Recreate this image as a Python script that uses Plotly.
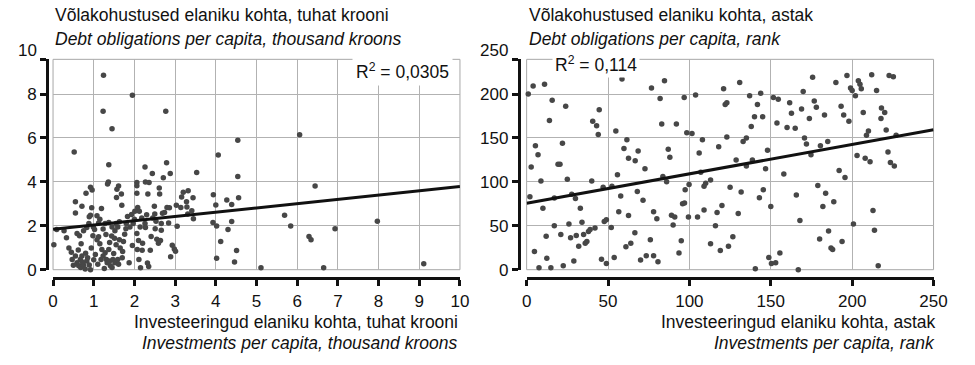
import plotly.graph_objects as go

# Left panel: investments vs debt obligations per capita, thousand kroons
invest_thousand = [
    1.53, 1.24, 1.95, 1.23, 2.77, 1.45, 4.54, 0.52, 4.06, 1.37, 2.79, 2.26, 3.53, 2.88, 2.44, 2.71,
    4.54, 1.36, 1.34, 2.06, 2.27, 2.36, 2.06, 1.61, 1.57, 0.92, 0.96, 0.81, 2.33, 2.61, 2.62, 3.20,
    3.32, 3.16, 3.44, 3.94, 4.56, 4.27, 4.39, 1.68, 1.56, 0.55, 2.06, 3.28, 3.03, 0.71, 1.69, 1.19,
    0.95, 2.08, 2.12, 2.49, 2.86, 3.14, 3.29, 4.00, 0.55, 0.92, 0.89,
    0.02, 0.09, 0.27, 0.33, 0.39, 0.45, 0.55, 0.47, 0.59, 0.63, 0.68, 0.75, 0.79, 0.10, 0.31, 0.52,
    0.76, 0.92, 1.04, 0.59, 0.65, 0.69, 0.71, 0.67, 0.80, 0.83, 0.89, 0.94, 0.98, 1.02, 1.08, 1.12,
    1.15, 1.20, 1.04, 1.18, 1.23, 1.28, 1.31, 1.33, 1.39, 1.41, 1.47, 1.52, 1.59, 1.61, 1.49, 1.37,
    1.39, 1.44, 1.52, 1.23, 1.28, 1.37, 1.45, 1.55, 1.63, 1.59, 1.51, 1.55, 1.63, 1.65, 1.71, 1.73,
    1.76, 1.79, 1.80, 1.83, 1.87, 1.93, 1.89, 1.97, 2.01, 2.06, 2.07, 2.11, 2.15, 2.19, 2.10, 2.14,
    2.18, 2.26, 2.27, 2.32, 2.35, 2.39, 2.41, 2.45, 2.50, 2.53, 2.51, 2.55, 2.59, 2.58, 2.64, 2.66,
    2.66, 2.69, 2.74, 2.80, 2.84, 2.89, 2.93, 2.98, 3.01, 3.05, 3.41, 3.45, 3.31, 1.08, 1.12, 0.99,
    0.83, 0.75, 0.88,
    0.62, 0.72, 0.85, 1.10, 1.26, 1.45, 1.70, 1.95, 2.20, 1.00, 0.50, 1.30, 1.15, 2.30, 2.00,
    4.39, 4.51, 4.46, 5.11, 6.06, 6.44, 5.69, 5.84, 6.29, 6.34, 6.93, 6.65, 7.97, 9.11, 3.93, 4.02,
    4.12, 4.02, 4.30,
]
debt_thousand = [
    9.65, 8.86, 7.94, 7.22, 7.22, 6.42, 5.89, 5.36, 5.22, 4.78, 4.87, 4.68, 4.43, 4.38, 4.38, 4.19,
    4.25, 3.99, 3.90, 3.97, 3.99, 3.97, 3.82, 3.81, 3.66, 3.75, 3.63, 3.48, 3.45, 3.72, 3.45, 3.53,
    3.59, 3.31, 3.28, 3.41, 3.28, 3.17, 2.97, 3.45, 3.29, 3.10, 3.48, 3.10, 2.94, 2.89, 2.94, 2.79,
    2.82, 2.83, 2.66, 2.89, 2.82, 2.83, 2.86, 2.95, 2.58, 2.48, 2.41,
    1.14, 1.83, 1.77, 1.46, 0.99, 0.80, 0.62, 0.47, 0.32, 0.18, 0.10, 0.21, 0.03, -0.06, -0.09, -0.12,
    -0.09, 0.00, -0.03, 1.65, 1.55, 1.18, 0.62, 0.47, 0.75, 0.40, 0.21, 0.99, 1.55, 1.83, 1.36, 1.50,
    1.18, 0.92, 0.69, 0.47, 0.62, 0.77, 0.47, 0.32, 0.40, 0.18, 0.47, 0.32, 0.47, 0.25, 0.74, 0.92,
    1.24, 1.54, 1.77, 1.85, 2.10, 2.15, 1.95, 2.10, 2.18, 1.95, 1.43, 1.14, 1.36, 0.99, 0.83, 1.28,
    1.62, 1.87, 2.10, 2.42, 0.32, 2.51, 1.95, 2.10, 2.66, 1.65, 0.92, 0.47, 0.09, 0.89, 1.33, 1.95,
    2.36, 2.10, 1.92, 0.30, 0.15, 0.89, 1.51, 2.36, 2.54, 2.21, 1.87, 1.39, 1.21, -0.04, 1.33, 1.80,
    2.10, 2.57, 2.60, 2.83, 2.13, 0.59, 1.11, 0.94, 0.84, 1.98, 2.69, 2.32, 2.54, 2.46, 2.13, 1.95,
    1.92, 1.77, 2.10,
    0.90, 0.35, 0.55, 0.25, 0.05, 0.10, 0.55, 1.10, 1.20, 0.45, 0.20, 1.60, 2.30, 2.50, 2.30,
    2.20, 0.87, 0.35, 0.09, 6.15, 3.81, 2.48, 1.99, 1.51, 1.36, 1.86, 0.09, 2.21, 0.27, 2.15, 1.99,
    1.28, 0.52, 1.83,
]

# Right panel: the same indicators as ranks
invest_rank = [
    1, 4, 11, 58.6, 84.7, 76.7, 121, 15.7, 24, 44.6, 82, 96.8, 103.8, 122, 123, 14, 40.6, 43, 44, 83,
    92, 54.8, 98.4, 101.6, 123, 5.4, 7, 22, 61.6, 59.8, 62.6, 66.7, 68.5, 87, 88, 106, 108, 118, 2.8,
    19.3, 20.5, 72.7, 107, 55.8, 8.8, 25, 40, 47, 52.4, 83.7, 86, 110, 113, 109, 99.8, 97.4, 2, 10, 17,
    27.7, 30, 33, 57.8, 68, 71.5, 78, 80, 95.8, 97, 91, 89, 90, 99.4, 105, 109, 117, 120, 116, 12, 17,
    21, 26, 27, 30.5, 34, 32, 35, 36, 37, 38, 39, 42, 47.7, 49, 52, 56.6, 62.6, 66.5, 64, 61, 76, 70,
    73.5, 78, 80.7, 95, 93.6, 113, 119, 124, 4.8, 12.4, 7.6, 14.9, 22.5, 29, 46, 49, 51, 53.8, 101, 125,
    130.9, 137, 143.8, 141.8, 140, 145, 138, 135, 133, 148, 128.7, 138.7, 135, 146.8, 151.6, 154.6,
    161.6, 162.7, 168.9, 176.7, 178, 183, 173.7, 153.8, 160, 165, 175.7, 169.9, 170.7, 171.9, 174.7,
    180.5, 185, 158, 192, 195.6, 190, 196.8, 193.2, 194.8, 198, 203.8, 204.8, 205.6, 199, 200, 202,
    212, 215, 222.7, 225.3, 206.8, 218, 220, 217.7, 210, 208.8, 220.9, 227, 203, 208, 211, 222, 223.5,
    225.9, 131.8, 145.4, 143, 130, 150, 165.7, 178.9, 183.7, 188.7, 182, 167.9, 212.8, 213.7, 200.8,
    126.7, 180, 185.5, 187, 188, 193.8, 148.8, 155.6, 150.4, 153, 140.5, 128, 163.9, 166.9, 216,
]
debt_rank = [
    200, 209, 211, 217, 215, 207, 206, 193, 186, 182, 195, 196, 199, 188, 190, 170, 169, 164, 154, 166,
    166, 158, 156, 155, 151, 141, 131, 144, 148, 138, 127, 124, 135, 137, 128, 133, 148, 140, 117,
    120, 120, 115, 111, 108, 101, 103, 101, 94, 95, 106, 100, 98.5, 102, 95, 97, 91, 83, 70, 81.5,
    86, 81, 70, 84, 89, 79, 66, 58, 75, 76, 60, 62, 51, 60, 60, 68, 65, 73, 50, 38, 50,
    40, 52, 36.5, 39, 54, 26.6, 40, 30, 32, 43.5, 45.8, 47.6, 55, 57, 48, 66, 61.6, 42, 30, 26, 34, 11,
    16, 16, 9, 33, 19, 29.5, 22, 26.6, 20.7, 13, 2.2, 2.2, 4.4, 10, 12, 7, -1, 14, -2, 94,
    213, 198, 201, 188, 174, 174, 163, 150, 146, 136, 125, 125, 118, 115, 196, 194,
    190, 178, 183, 192, 185, 176, 172, 167, 162, 161, 219, 203, 150, 143, 131,
    141, 146, 109, 113, 105, 213, 221, 186, 176, 169, 215, 211, 206, 207, 204, 198,
    222, 204, 221, 219.6, 179, 184, 179, 172, 158, 153, 159, 153, 130, 127, 123, 134, 122,
    118, 88.6, 91, 82, 64, 72, 85, 96, 87, 77.5, 72, 56, 67.5, 45, 52,
    37.6, 35, 44, 24.7, 23, 32, 14, 19, 7, 8, 1, -4.4, -3, 0, 4.4,
]

# Linear trend lines (intercept, slope) and their coefficients of determination
trend_thousand = (1.84, 0.195)
trend_rank = (75.6, 0.335)
r2_thousand = "0,0305"
r2_rank = "0,114"

x_ticks_thousand = list(range(0, 11))
x_ticks_rank = [0, 50, 100, 150, 200, 250]
y_ticks_thousand = [0, 2, 4, 6, 8]
y_ticks_rank = [0, 50, 100, 150, 200]
y_top_label_thousand = "10"
y_top_label_rank = "250"

FONT = "Liberation Sans, Arial, sans-serif"
INK = "#111111"
DOT = "#474747"
GRID = "#b2b2b2"
W, H = 975, 365

def px_x(v):
    return v / W

def px_y(v):
    return 1 - v / H

fig = go.Figure()

fig.add_trace(go.Scatter(
    x=invest_thousand, y=debt_thousand, mode="markers", xaxis="x", yaxis="y",
    marker=dict(size=5.5, color=DOT), cliponaxis=False, showlegend=False,
))
fig.add_trace(go.Scatter(
    x=[0, 10], y=[trend_thousand[0], trend_thousand[0] + trend_thousand[1] * 10],
    mode="lines", xaxis="x", yaxis="y", line=dict(color=INK, width=3), showlegend=False,
))
fig.add_trace(go.Scatter(
    x=invest_rank, y=debt_rank, mode="markers", xaxis="x2", yaxis="y2",
    marker=dict(size=5.5, color=DOT), cliponaxis=False, showlegend=False,
))
fig.add_trace(go.Scatter(
    x=[0, 250], y=[trend_rank[0], trend_rank[0] + trend_rank[1] * 250],
    mode="lines", xaxis="x2", yaxis="y2", line=dict(color=INK, width=3), showlegend=False,
))

y_dom = [px_y(277.3), px_y(61)]
y_top_thousand = 9.58
y_top_rank = 239.5

common_x = dict(
    anchor="free", position=px_y(286), showline=True, linecolor=INK, linewidth=3,
    ticks="outside", ticklen=6, tickwidth=2.5, tickcolor=INK,
    showgrid=True, gridcolor=GRID, gridwidth=1, zeroline=False,
    tickfont=dict(family=FONT, size=17, color=INK),
)
common_y = dict(
    anchor="free", showline=True, linecolor=INK, linewidth=3,
    ticks="outside", ticklen=6, tickwidth=2.5, tickcolor=INK,
    showgrid=True, gridcolor=GRID, gridwidth=1, zeroline=False, domain=y_dom,
    tickfont=dict(family=FONT, size=17, color=INK),
)

fig.update_layout(
    width=W, height=H, margin=dict(l=0, r=0, t=0, b=0),
    paper_bgcolor="white", plot_bgcolor="white",
    font=dict(family=FONT, size=17, color=INK),
    xaxis=dict(common_x, domain=[px_x(49), px_x(464)], range=[0, 10],
               tickvals=x_ticks_thousand),
    yaxis=dict(common_y, position=px_x(43), range=[0, y_top_thousand],
               tickvals=y_ticks_thousand,
               minor=dict(tickvals=[y_top_thousand], ticks="outside", ticklen=6,
                          tickwidth=2.5, tickcolor=INK, showgrid=False)),
    xaxis2=dict(common_x, domain=[px_x(532), px_x(947)], range=[0, 250],
                tickvals=x_ticks_rank),
    yaxis2=dict(common_y, position=px_x(524), range=[0, y_top_rank],
                tickvals=y_ticks_rank,
                minor=dict(tickvals=[y_top_rank], ticks="outside", ticklen=6,
                           tickwidth=2.5, tickcolor=INK, showgrid=False)),
)

# Grey frame around each plotting area
for xr, yr in (("x domain", "y domain"), ("x2 domain", "y2 domain")):
    fig.add_shape(type="rect", xref=xr, yref=yr, x0=0, x1=1, y0=0, y1=1,
                  line=dict(color="#a8a8a8", width=1), layer="below")

def text(x, y, s, xanchor="left", italic=False, size=17.5, **kw):
    fig.add_annotation(
        x=x, y=y, xref="paper", yref="paper", text=f"<i>{s}</i>" if italic else s,
        showarrow=False, xanchor=xanchor, yanchor="middle",
        font=dict(family=FONT, size=size, color=INK), **kw,
    )

# Vertical axis titles
text(px_x(49), px_y(15), "Võlakohustused elaniku kohta, tuhat krooni")
text(px_x(49), px_y(40), "Debt obligations per capita, thousand kroons", italic=True)
text(px_x(532), px_y(15), "Võlakohustused elaniku kohta, astak")
text(px_x(532), px_y(40), "Debt obligations per capita, rank", italic=True)

# Horizontal axis titles
text(px_x(464), px_y(331), "Investeeringud elaniku kohta, tuhat krooni", xanchor="right")
text(px_x(463), px_y(353), "Investments per capita, thousand kroons", xanchor="right", italic=True)
text(px_x(952), px_y(331), "Investeeringud elaniku kohta, astak", xanchor="right")
text(px_x(951), px_y(353), "Investments per capita, rank", xanchor="right", italic=True)

# Top tick labels of the vertical axes
text(px_x(35), px_y(52), y_top_label_thousand, xanchor="right", size=17)
text(px_x(515), px_y(52), y_top_label_rank, xanchor="right", size=17)

# Coefficients of determination
text(px_x(457), px_y(73), f"R<sup>2</sup> = {r2_thousand}", xanchor="right",
     bgcolor="white", borderpad=3)
text(px_x(558), px_y(66), f"R<sup>2</sup> = {r2_rank}", bgcolor="white", borderpad=2)

fig.write_html("out.html")
